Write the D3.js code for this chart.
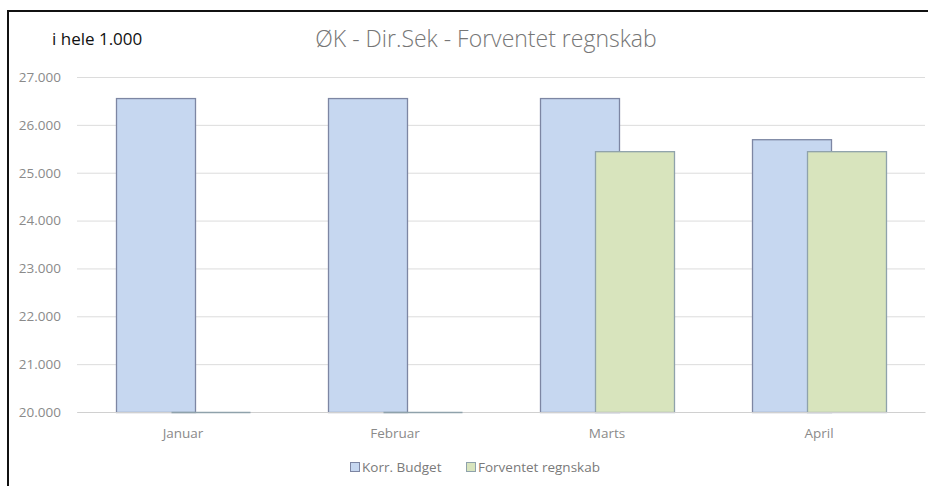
<!DOCTYPE html>
<meta charset="utf-8">
<script src="https://d3js.org/d3.v7.min.js"></script>
<html>
<head>
  <title>ØK - Dir.Sek - Forventet regnskab</title>
  <style>
    body { margin: 0; background: #fff; overflow: hidden; }
    svg { display: block; }
    svg text { font-family: 'Open Sans', sans-serif; }
  </style>
</head>
<body>
  <div id="my_dataviz"></div>
</body>
</html>

<script>
  // data (in 1.000 kr)
  var months = ["Januar", "Februar", "Marts", "April"];
  var korrBudget = [26560, 26560, 26560, 25700];
  var forventet = [0, 0, 25450, 25450];
  var yTicks = [20000, 21000, 22000, 23000, 24000, 25000, 26000, 27000];
  var seriesNames = ["Korr. Budget", "Forventet regnskab"];
  var seriesFill = ["#c6d7f0", "#d8e4bd"];
  var seriesStroke = ["#7d86a3", "#8fa2ab"];

  var W = 928, H = 486;
  var margin = {top: 77, right: 3, bottom: 74, left: 77};
  var width = W - margin.left - margin.right,
      height = H - margin.top - margin.bottom;

  var svg = d3.select("#my_dataviz")
    .append("svg")
      .attr("width", W)
      .attr("height", H);

  // outer frame, only top and left edges are visible in the crop
  svg.append("path")
    .attr("d", "M8," + H + "V11H" + W)
    .attr("fill", "none")
    .attr("stroke", "#111")
    .attr("stroke-width", 2);

  var g = svg.append("g")
    .attr("transform", "translate(" + margin.left + "," + margin.top + ")");

  var x = d3.scaleBand()
    .domain(months)
    .range([0, width]);

  var y = d3.scaleLinear()
    .domain([20000, 27000])
    .range([height, 0]);

  // gridlines + y labels
  g.append("g")
    .call(d3.axisLeft(y).tickValues(yTicks).tickSize(-width)
      .tickFormat(function(d) { return d3.format(",")(d).replace(",", "."); }))
    .call(function(a) {
      a.select(".domain").remove();
      a.selectAll("line").attr("stroke", "#dcdcdc");
      a.selectAll("text")
        .attr("x", -16)
        .attr("fill", "#8a8a8a")
        .style("font-size", "13.5px");
    });

  // bars
  var barW = 79, offset = 55;
  var groupW = barW + offset;
  var data = [];
  months.forEach(function(m, i) {
    data.push({m: m, s: 0, v: korrBudget[i]});
    data.push({m: m, s: 1, v: forventet[i]});
  });
  var bx = function(d) { return x(d.m) + x.bandwidth() / 2 - groupW / 2 + d.s * offset + 0.5; };

  g.selectAll(".bar")
    .data(data.filter(function(d) { return d.v > 20000; }))
    .enter()
    .append("rect")
      .attr("class", "bar")
      .attr("x", bx)
      .attr("y", function(d) { return y(d.v) + 0.5; })
      .attr("width", barW)
      .attr("height", function(d) { return height - y(d.v); })
      .attr("fill", function(d) { return seriesFill[d.s]; })
      .attr("stroke", function(d) { return seriesStroke[d.s]; })
      .attr("stroke-width", 1.3);

  // x axis
  g.append("g")
    .attr("transform", "translate(0," + height + ")")
    .call(d3.axisBottom(x).tickSize(0))
    .call(function(a) {
      a.select(".domain").attr("stroke", "#d0d0d0");
      a.selectAll("text")
        .attr("y", 26)
        .attr("dy", 0)
        .attr("fill", "#8a8a8a")
        .style("font-size", "13.5px");
    });

  // bars clipped at the axis minimum show as a flat line
  g.selectAll(".flat")
    .data(data.filter(function(d) { return d.v <= 20000; }))
    .enter()
    .append("line")
      .attr("class", "flat")
      .attr("x1", bx)
      .attr("x2", function(d) { return bx(d) + barW; })
      .attr("y1", height + 0.5)
      .attr("y2", height + 0.5)
      .attr("stroke", function(d) { return seriesStroke[d.s]; })
      .attr("stroke-width", 1.3);

  // legend
  var legend = svg.append("g").attr("transform", "translate(350,472)");
  var legX = [0, 116];
  seriesNames.forEach(function(n, i) {
    var lg = legend.append("g").attr("transform", "translate(" + legX[i] + ",0)");
    lg.append("rect")
      .attr("x", 0.5).attr("y", -9.5)
      .attr("width", 9).attr("height", 9)
      .attr("fill", seriesFill[i])
      .attr("stroke", seriesStroke[i]);
    lg.append("text")
      .attr("x", 12).attr("y", 0)
      .attr("fill", "#7a7a7a")
      .style("font-size", "13.5px")
      .text(n);
  });

  // titles
  svg.append("text")
    .attr("x", 486).attr("y", 47)
    .attr("text-anchor", "middle")
    .attr("fill", "#767676")
    .style("font-size", "23px")
    .style("font-weight", 300)
    .text("ØK - Dir.Sek - Forventet regnskab");

  svg.append("text")
    .attr("x", 52).attr("y", 45)
    .attr("fill", "#111")
    .style("font-size", "17px")
    .text("i hele 1.000");
</script>
